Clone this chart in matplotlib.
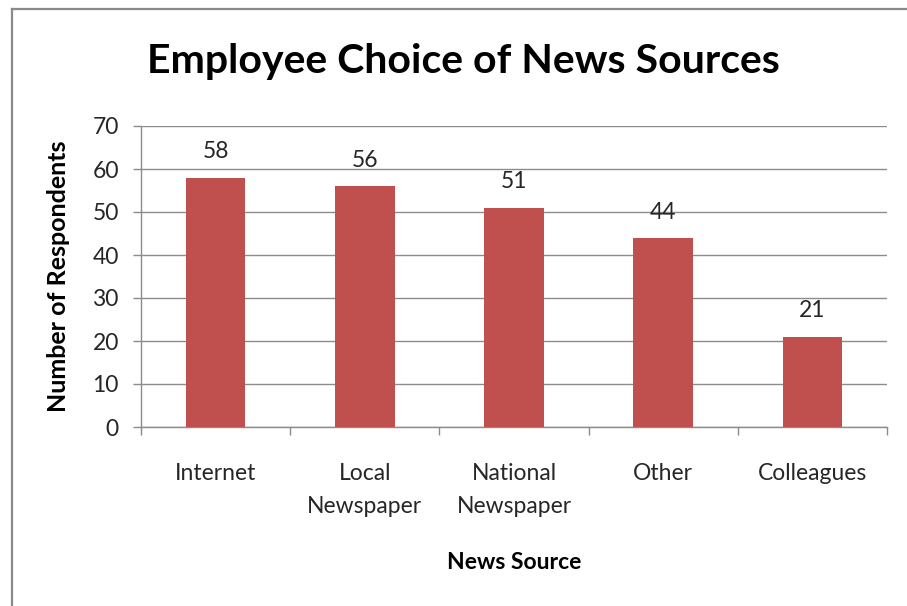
import matplotlib
matplotlib.use("Agg")
import matplotlib.pyplot as plt
from matplotlib.lines import Line2D
import numpy as np

categories = ["Internet", "Local\nNewspaper", "National\nNewspaper", "Other", "Colleagues"]
respondents = [58, 56, 51, 44, 21]
y_ticks = [0, 10, 20, 30, 40, 50, 60, 70]

bar_color = "#C0504D"
grid_color = "#8C8C8C"
text_color = "#262626"

plt.rcParams["font.family"] = ["Lato", "DejaVu Sans"]

fig = plt.figure(figsize=(9.07, 6.06), dpi=100)
fig.patch.set_facecolor("white")

# chart frame (left and top edges)
fig.add_artist(Line2D([12/907, 12/907], [0, 1 - 9/606], transform=fig.transFigure,
                      color="#8A8A8A", lw=1.6))
fig.add_artist(Line2D([12/907, 1], [1 - 9/606, 1 - 9/606], transform=fig.transFigure,
                      color="#8A8A8A", lw=1.6))

ax = fig.add_axes([141/907, 1 - 427/606, (887 - 141)/907, (427 - 126)/606])

x = np.arange(len(categories))
bars = ax.bar(x, respondents, width=0.4, color=bar_color, zorder=3)

ax.set_xlim(-0.5, len(categories) - 0.5)
ax.set_ylim(0, 70)
ax.set_yticks(y_ticks)
ax.yaxis.grid(True, color=grid_color, lw=1.0, zorder=0)
ax.set_axisbelow(True)

for s in ["top", "right"]:
    ax.spines[s].set_visible(False)
ax.spines["left"].set_color(grid_color)
ax.spines["bottom"].set_color(grid_color)
ax.spines["left"].set_linewidth(1.0)
ax.spines["bottom"].set_linewidth(1.0)

# category boundaries as major ticks, labels at centers
ax.set_xticks(np.arange(len(categories) + 1) - 0.5)
ax.set_xticklabels([])
ax.set_xticks(x, minor=True)
ax.set_xticklabels(categories, minor=True, fontsize=16.5, color=text_color,
                   linespacing=1.7)
ax.tick_params(axis="x", which="major", length=6, width=1.0, color=grid_color, direction="out")
ax.tick_params(axis="x", which="minor", length=0, pad=26)
ax.tick_params(axis="y", length=6, width=1.0, color=grid_color, labelsize=16.5,
               labelcolor=text_color, pad=10)

for rect, v in zip(bars, respondents):
    ax.annotate(str(v), (rect.get_x() + rect.get_width() / 2, v),
                xytext=(0, 11), textcoords="offset points",
                ha="center", va="bottom", fontsize=16.5, color=text_color)

ax.set_ylabel("Number of Respondents", fontsize=18, fontweight="bold", color="black", labelpad=16)
ax.set_xlabel("News Source", fontsize=16.5, fontweight="bold", color="black", labelpad=25)

fig.text(463/907, 1 - 62/606, "Employee Choice of News Sources", ha="center", va="center",
         fontsize=29.5, fontweight="bold", color="black")

fig.savefig("out.png", dpi=100, facecolor="white")
